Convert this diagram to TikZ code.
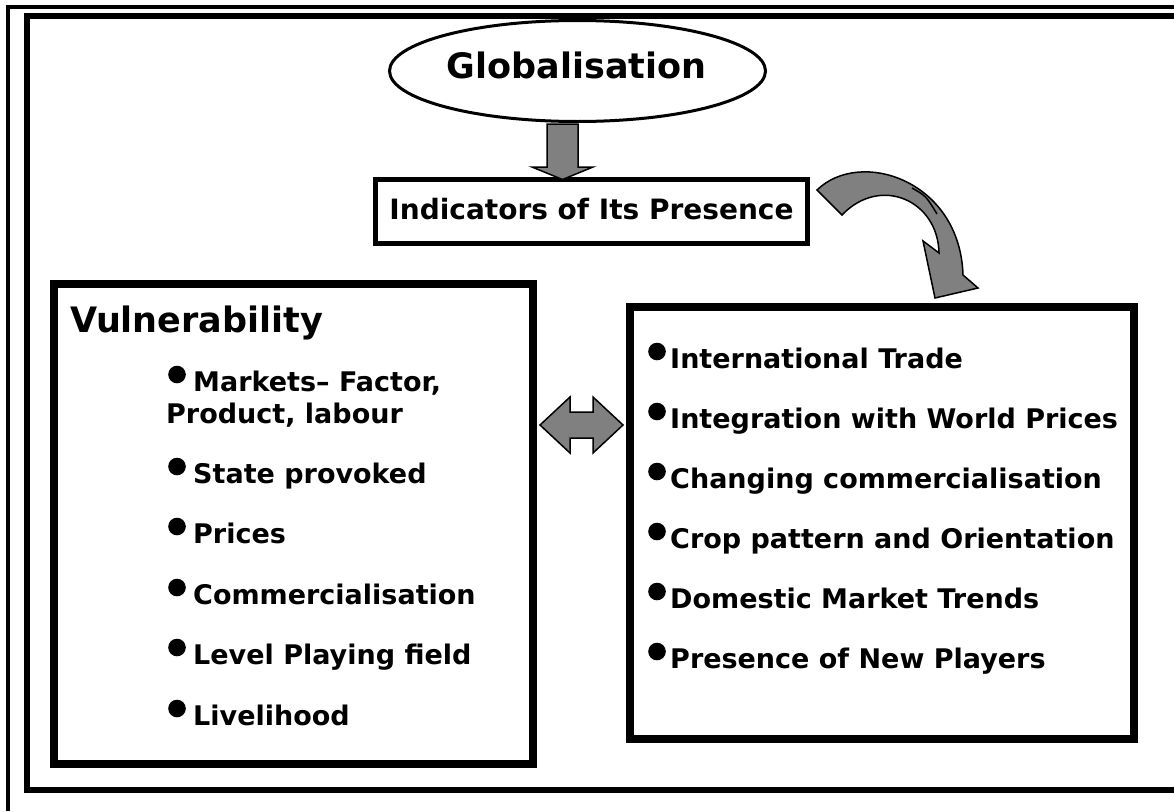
\documentclass[tikz,border=0pt]{standalone}
\usepackage{fontspec}
\setmainfont{DejaVu Sans}
\usetikzlibrary{shapes.geometric}
\tikzset{
  txt/.style={inner sep=0pt, font=\bfseries\fontsize{27}{27}\selectfont},
  bigtxt/.style={inner sep=0pt, font=\bfseries\fontsize{35}{35}\selectfont},
  box/.style={draw, line width=8pt, inner sep=0pt},
  blockarrow/.style={draw, line width=1.5pt, fill=gray, line join=miter},
  bulletdot/.style={fill=black},
}
\begin{document}
\begin{tikzpicture}[x=1pt, y=-1pt]
\useasboundingbox (0,0) rectangle (1174,811);
\fill[white] (0,0) rectangle (1174,811);

% double page frame
\draw[line width=4pt] (8,811) -- (8,7) -- (1174,7);
\draw[line width=6pt] (1174,16) -- (26.5,16) -- (26.5,789.5) -- (1174,789.5);

% title ellipse
\node[ellipse, draw, line width=3pt, fill=white, minimum width=376pt, minimum height=101pt, inner sep=0pt] (glob) at (577.5,71) {};
\node[bigtxt, anchor=base] (globtext) at (576.5,78) {Globalisation};

% indicators box
\node[draw, line width=5pt, inner sep=0pt, minimum width=432pt, minimum height=64pt] (pres) at (591.5,211.5) {};
\node[txt, font=\bfseries\fontsize{28}{28}\selectfont, anchor=base] (prestext) at (591.5,219) {Indicators of Its Presence};

% down arrow from the ellipse to the box
\draw[blockarrow] ([xshift=-30.5pt]glob.south) ++(0,1) -- ++(31,0) -- ++(0,43) -- ++(15,0)
  -- ++(-30.5,12.5) -- ++(-30.5,-12.5) -- ++(15,0) -- cycle;

% curved arrow from the indicators box to the right box
\draw[blockarrow] ([xshift=7pt]pres.north east) ++(0,13)
  .. controls ++(43,-42) and (960,180) .. (963,275)
  -- (978,288) -- (935,298) -- (923,241) -- (939,253)
  .. controls (938,200) and (880,175) .. (842,215) -- cycle;
% fold of the ribbon
\draw[line width=1.5pt] (912,188) .. controls (926,196) .. (937,214);

% left box
\node[box, minimum width=479pt, minimum height=480pt] (vul) at (293.5,524) {};
\node[bigtxt, anchor=base west] (vultext) at (70,332) {Vulnerability};

% right box
\node[box, minimum width=504pt, minimum height=432pt] (trade) at (882,523) {};

% two-way arrow between the boxes
\draw[blockarrow] ([xshift=3pt,yshift=99pt]vul.east) -- ++(30,-28) -- ++(0,15) -- ++(23,0) -- ++(0,-15)
  -- ++(30,28) -- ++(-30,28) -- ++(0,-15) -- ++(-23,0) -- ++(0,15) -- cycle;

% left list
\foreach \n/\y/\t in {l1/391/{Markets– Factor,}, l3/483/{State provoked}, l4/543/{Prices},
    l5/604/{Commercialisation}, l6/664/{Level Playing field}, l7/725/{Livelihood}}{
  \fill[bulletdot] (177,\y-16.5) circle[radius=8.8pt];
  \node[txt, anchor=base west] (\n) at (193,\y) {\t};
}
\node[txt, anchor=base west] (l2) at (166,423) {Product, labour};

% right list
\foreach \n/\y/\t in {r1/368/{International Trade}, r2/428/{Integration with World Prices},
    r3/488/{Changing commercialisation}, r4/548/{Crop pattern and Orientation},
    r5/608/{Domestic Market Trends}, r6/668/{Presence of New Players}}{
  \fill[bulletdot] (657,\y-16.5) circle[radius=8.8pt];
  \node[txt, anchor=base west] (\n) at (670,\y) {\t};
}
\end{tikzpicture}
\end{document}
